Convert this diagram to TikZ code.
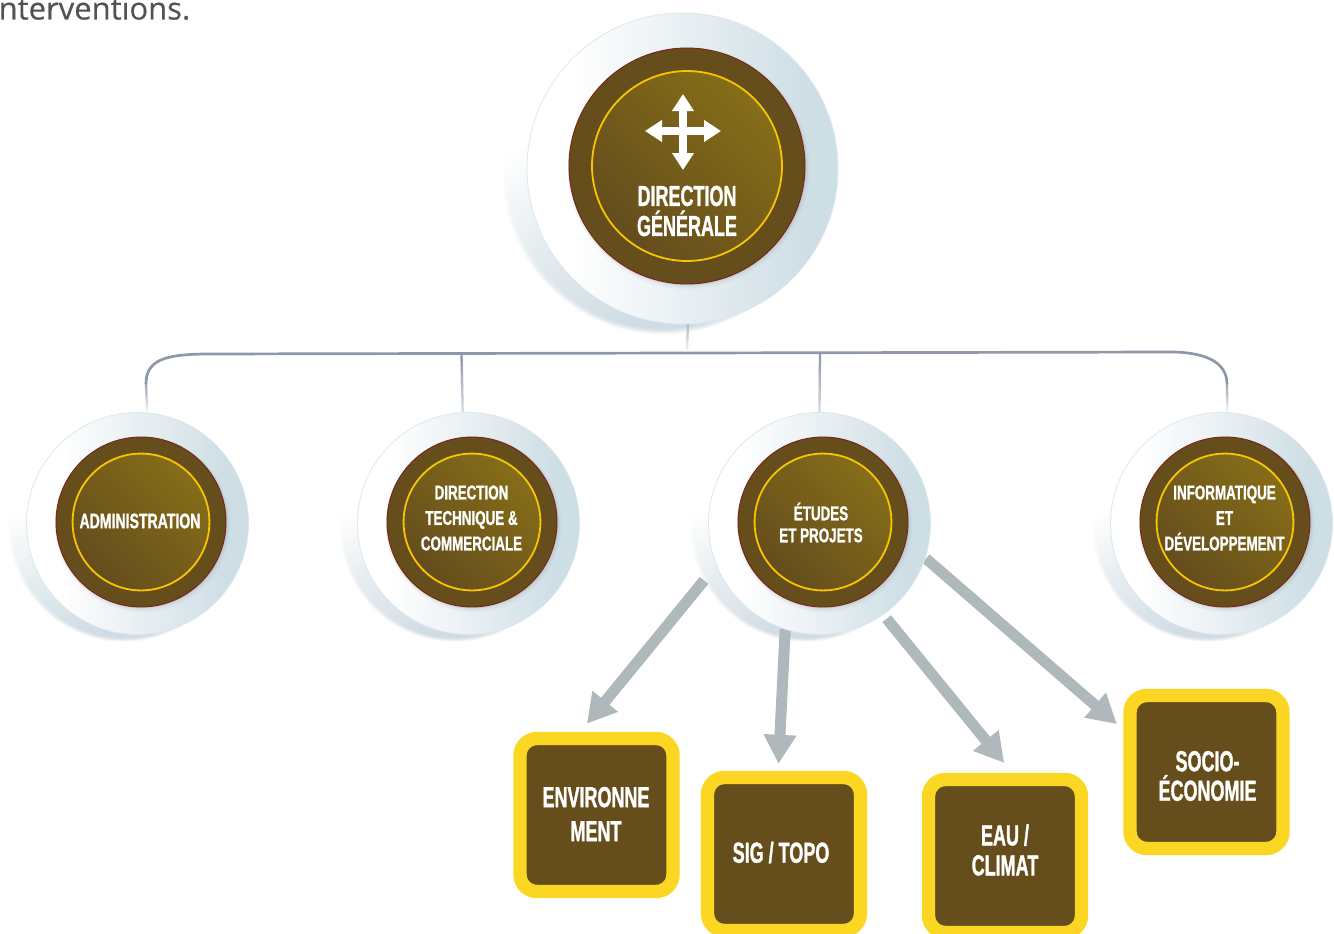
\documentclass[tikz,border=0pt]{standalone}
\usepackage{fontspec}
\usetikzlibrary{arrows.meta,calc,shapes.geometric}
\newfontfamily\labfont[FakeStretch=0.62,FakeBold=1.1]{Liberation Sans}
\newfontfamily\smallfont[FakeStretch=0.67,FakeBold=1.1]{Liberation Sans}
\newfontfamily\topfont[FakeBold=0.3]{Open Sans}
\definecolor{brownD}{HTML}{644D1D}
\definecolor{brownL}{HTML}{866D18}
\definecolor{brownM}{HTML}{654E1C}
\definecolor{edgeR}{HTML}{7A2218}
\definecolor{ringY}{HTML}{F7C600}
\definecolor{boxY}{HTML}{FBD724}
\definecolor{arrowG}{HTML}{AFB8BA}
\definecolor{busC}{HTML}{8E98A8}
\definecolor{discB}{HTML}{CEDEE5}
\definecolor{discM}{HTML}{E6EEF2}
\definecolor{shadowB}{HTML}{CFDCE3}
\definecolor{shadowM}{HTML}{E4ECEF}
\definecolor{rimB}{HTML}{DCE8EE}
\pgfdeclarehorizontalshading{discH}{100bp}{color(0bp)=(white); color(32bp)=(white); color(52bp)=(discM); color(70bp)=(discB); color(100bp)=(discB)}
\pgfdeclareverticalshading{shadowV}{100bp}{color(0bp)=(shadowB); color(32bp)=(shadowB); color(50bp)=(shadowM); color(66bp)=(white); color(100bp)=(white)}
\pgfdeclarelayer{shadowlayer}
\pgfdeclarelayer{linklayer}
\pgfsetlayers{shadowlayer,linklayer,main}
\tikzset{
  maindisc/.style={circle,inner sep=0pt,outer sep=0pt,draw=rimB,line width=0.8pt,shading=discH,shading angle=0},
  innerdisc/.style={circle,inner sep=0pt,outer sep=0pt,draw=edgeR,line width=0.9pt,fill=brownM},
  ringdisc/.style={circle,inner sep=0pt,outer sep=0pt,draw=ringY,line width=1.8pt,top color=brownL,bottom color=brownD,shading angle=-45},
  labeltext/.style={text=white,align=center,inner sep=0pt,font=\labfont\bfseries},
  yellowbox/.style={rectangle,minimum size=153pt,inner sep=0pt,draw=boxY,line width=13.4pt,fill=brownM,rounded corners=17pt},
  flowarrow/.style={draw=arrowG,line width=11pt,-{Triangle[width=31pt,length=29pt,fill=arrowG]}},
  busline/.style={draw=busC,line width=2.7pt},
  iconarrow/.style={draw=white,line width=8pt,{Triangle[width=21pt,length=17pt,fill=white]}-{Triangle[width=21pt,length=17pt,fill=white]}}
}
% name, outer x, outer y, outer r, inner x, inner y, inner r
\newcommand\orgdisc[7]{%
  \begin{pgfonlayer}{shadowlayer}
    \foreach \k/\op in {1/0.22,0.75/0.3,0.5/0.4,0.25/0.55,0/1}{
      \shade[shading=shadowV,shading angle=32,opacity=\op]
        (#2-0.125*#4,#3+0.03*#4) circle [radius=#4*(1+0.035*\k)];
    }
  \end{pgfonlayer}
  \node[maindisc,minimum size={2*#4*1pt}] (#1) at (#2,#3) {};
  \foreach \k/\op in {5/0.025,3.5/0.035,2/0.05,1/0.07}{
    \fill[black!70!discB,opacity=\op] (#5+0.3*\k,#6+0.5*\k) circle [radius=#7+\k*0.6];
  }
  \node[innerdisc,minimum size={2*#7*1pt}] (#1Inner) at (#5,#6) {};
  \node[ringdisc,minimum size={2*0.805*#7*1pt}] (#1Ring) at (#5,#6) {};
}
% from, to, start percent, end percent
\newcommand\fadeconn[5][2.3pt]{%
  \foreach \i in {0,...,15}{
    \pgfmathsetmacro\segA{\i/16}
    \pgfmathsetmacro\segB{(\i+1.2)/16}
    \pgfmathsetmacro\segP{#4+(#5-#4)*\i/15}
    \draw[busline,line width=#1,draw=busC!\segP!white] ($(#2)!\segA!(#3)$) -- ($(#2)!\segB!(#3)$);
  }
}
\begin{document}
\begin{tikzpicture}[x=1pt,y=-1pt]
\useasboundingbox (0,0) rectangle (1334,934);
\begin{pgfonlayer}{shadowlayer}
\fill[white] (0,0) rectangle (1334,934);
\end{pgfonlayer}

\node[anchor=base west,inner sep=0pt,text=black!68,font=\topfont\fontsize{31}{34}\selectfont] (topText) at (-1.5,19.5) {nterventions.};

\orgdisc{dg}{682.5}{168.5}{155.5}{687}{166}{118}
\orgdisc{admin}{137.5}{523.5}{111}{141}{522}{85}
\orgdisc{dtc}{468.5}{523.5}{111}{472}{522}{85}
\orgdisc{etudes}{819.5}{523.5}{111}{823}{522}{85}
\orgdisc{info}{1221.5}{523.5}{111}{1225}{522}{85}

% labels
\node[labeltext,font=\labfont\bfseries\fontsize{29}{30}\selectfont] (dgLabel) at (687,211) {DIRECTION\\GÉNÉRALE};
\node[labeltext,font=\smallfont\bfseries\fontsize{21}{25}\selectfont] (adminLabel) at (140,521) {ADMINISTRATION};
\node[labeltext,font=\smallfont\bfseries\fontsize{20}{25.5}\selectfont] (dtcLabel) at (471.5,518) {DIRECTION\\TECHNIQUE \&\\COMMERCIALE};
\node[labeltext,font=\smallfont\bfseries\fontsize{20}{22}\selectfont] (etudesLabel) at (821,522.5) {ÉTUDES\\ET PROJETS};
\node[labeltext,font=\smallfont\bfseries\fontsize{20}{25.5}\selectfont] (infoLabel) at (1224.5,518) {INFORMATIQUE\\ET\\DÉVELOPPEMENT};

% icon
\coordinate (iconN) at (683,94);
\coordinate (iconS) at (683,170);
\coordinate (iconW) at (645,131);
\coordinate (iconE) at (721,131);
\draw[iconarrow] (iconN) -- (iconS);
\draw[iconarrow] (iconW) -- (iconE);

% boxes
\node[yellowbox] (envBox) at (596.5,815) {};
\node[yellowbox] (sigBox) at (784,854) {};
\node[yellowbox] (eauBox) at (1005,856) {};
\node[yellowbox] (socBox) at (1206.5,772) {};
\node[labeltext,font=\labfont\bfseries\fontsize{29}{34}\selectfont] (envLabel) at (596,814) {ENVIRONNE\\MENT};
\node[labeltext,font=\labfont\bfseries\fontsize{29}{30}\selectfont] (sigLabel) at (781,852.5) {SIG / TOPO};
\node[labeltext,font=\labfont\bfseries\fontsize{29}{30}\selectfont] (eauLabel) at (1005,850) {EAU /\\CLIMAT};
\node[labeltext,font=\labfont\bfseries\fontsize{29}{29.5}\selectfont] (socLabel) at (1207.5,776) {SOCIO-\\ÉCONOMIE};

% connectors
\begin{pgfonlayer}{linklayer}
  \draw[flowarrow,shorten <=19.8pt,shorten >=10.4pt] (etudes.202) -- (envBox.101);
  \draw[flowarrow,shorten >=7pt] (etudes.252) -- (sigBox.94.4);
  \draw[flowarrow,shorten <=5.5pt,shorten >=12.8pt] (etudes.305.3) -- (eauBox.85.9);
  \draw[flowarrow,shorten <=1.2pt,shorten >=8.4pt] (etudes.342) -- (socBox.153);

  \coordinate (busL) at (146,384);
  \coordinate (busR) at (1227,384);
  \coordinate (tapD) at (461.5,354);
  \coordinate (tapE) at (820,353);
  \coordinate (tapG) at (687,351);
  \draw[busline] (busL) .. controls (146,360) and (165,354.5) .. (205,354) -- (1170,352) .. controls (1205,352) and (1227,362) .. (busR);
  \fadeconn{busL}{admin.85.6}{85}{8}
  \fadeconn{busR}{info.87}{85}{8}
  \fadeconn{tapD}{dtc.93.6}{100}{35}
  \fadeconn{tapE}{etudes.90}{100}{35}
  \fadeconn{dg.272}{tapG}{70}{10}
\end{pgfonlayer}
\end{tikzpicture}
\end{document}
